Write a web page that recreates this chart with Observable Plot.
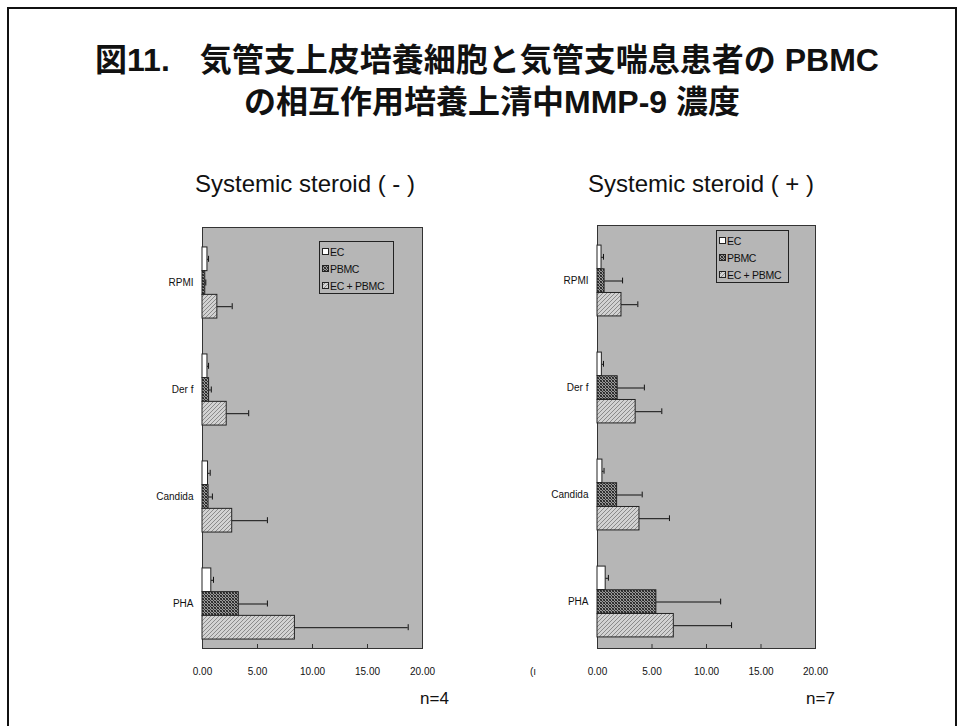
<!DOCTYPE html>
<html>
<head>
<meta charset="utf-8">
<script src="https://cdn.jsdelivr.net/npm/d3@7"></script>
<script src="https://cdn.jsdelivr.net/npm/@observablehq/plot@0.6"></script>
<style>
  body { margin: 0; background: #fff; }
  #page { position: relative; width: 964px; height: 726px; overflow: hidden; background: #fff;
          font-family: "Liberation Sans", Arial, sans-serif; color: #111; }
  .abs { position: absolute; white-space: nowrap; }
  .title { font-family: "Liberation Sans", "Noto Sans CJK JP", sans-serif; font-weight: 700; font-size: 32px;
           line-height: 1; transform: translateX(-50%); }
  .sub { font-size: 24px; line-height: 1; transform: translateX(-50%); }
  .n { font-size: 17px; line-height: 1; }
</style>
</head>
<body>
<div id="page">
  <div class="abs" style="left:7px;top:7px;width:946px;height:800px;border:2px solid #111;"></div>
  <div class="abs title" style="left:487px;top:44px;">図11.<span style="display:inline-block;width:30px"></span>気管支上皮培養細胞と気管支喘息患者の PBMC</div>
  <div class="abs title" style="left:492px;top:86px;">の相互作用培養上清中MMP-9 濃度</div>
  <div class="abs sub" style="left:305px;top:172px;">Systemic steroid ( - )</div>
  <div class="abs sub" style="left:701px;top:172px;">Systemic steroid ( + )</div>
  <div class="abs" id="left" style="left:140px;top:215px;"></div>
  <div class="abs" id="right" style="left:535px;top:213px;"></div>
  <div class="abs" style="left:530px;top:666px;font-size:10px;">(ı</div>
  <div class="abs n" style="left:420px;top:690px;">n=4</div>
  <div class="abs n" style="left:806px;top:690px;">n=7</div>

  <svg width="0" height="0" style="position:absolute">
    <defs>
      <!-- stippled panel background -->
      <pattern id="halftone" width="2" height="2" patternUnits="userSpaceOnUse">
        <rect width="2" height="2" fill="#f2f2f2"/>
        <rect x="0" y="0" width="1" height="1" fill="#7a7a7a"/>
        <rect x="1" y="1" width="1" height="1" fill="#7a7a7a"/>
      </pattern>
      <!-- dark cross-hatch for PBMC -->
      <pattern id="cross" width="3" height="3" patternUnits="userSpaceOnUse">
        <rect width="3" height="3" fill="#9a9a9a"/>
        <rect x="0" y="0" width="1" height="1" fill="#222"/>
        <rect x="1" y="1" width="1" height="1" fill="#333"/>
        <rect x="2" y="2" width="1" height="1" fill="#222"/>
        <rect x="2" y="0" width="1" height="1" fill="#444"/>
        <rect x="0" y="2" width="1" height="1" fill="#444"/>
      </pattern>
      <!-- light diagonal hatch for EC + PBMC -->
      <pattern id="diag" width="4" height="4" patternUnits="userSpaceOnUse">
        <rect width="4" height="4" fill="#d2d2d2"/>
        <path d="M0,4 L4,0 M-1,1 L1,-1 M3,5 L5,3" stroke="#8a8a8a" stroke-width="1"/>
      </pattern>
    </defs>
  </svg>
</div>

<script>
// Categories, series and axis ticks
const categories = ["RPMI", "Der f", "Candida", "PHA"];
const series = ["EC", "PBMC", "EC + PBMC"];
const xTicks = [0, 5, 10, 15, 20];

// Systemic steroid (-), n=4 : means and SD
const minusEC = [0.45, 0.45, 0.5, 0.8];
const minusECsd = [0.1, 0.1, 0.2, 0.2];
const minusPBMC = [0.25, 0.6, 0.55, 3.3];
const minusPBMCsd = [0.05, 0.2, 0.35, 2.6];
const minusMix = [1.35, 2.2, 2.7, 8.4];
const minusMixsd = [1.35, 2.0, 3.2, 10.3];

// Systemic steroid (+), n=7 : means and SD
const plusEC = [0.37, 0.4, 0.45, 0.75];
const plusECsd = [0.18, 0.15, 0.15, 0.25];
const plusPBMC = [0.65, 1.85, 1.8, 5.4];
const plusPBMCsd = [1.65, 2.45, 2.3, 5.9];
const plusMix = [2.2, 3.5, 3.85, 7.0];
const plusMixsd = [1.5, 2.4, 2.75, 5.3];

const fills = ["#ffffff", "url(#cross)", "url(#diag)"];

function rowsFor(groups) {
  const rows = [];
  groups.forEach(([vals, sds], i) => {
    categories.forEach((cat, j) => rows.push({cat, series: series[i], value: vals[j], sd: sds[j]}));
  });
  return rows;
}

function panel(rows, {width, height, marginLeft, marginRight, marginTop, marginBottom, yRange}) {
  const band = (yRange[1] - yRange[0]) / categories.length;
  const barH = 23.7;
  const pad = (band - 3 * barH) / 2;
  const frameH = height - marginTop - marginBottom;
  const marks = [Plot.frame({fill: "url(#halftone)", stroke: "#333", strokeWidth: 1})];
  series.forEach((s, i) => {
    const subset = rows.filter(r => r.series === s);
    const top = pad + i * barH;
    const bottom = band - pad - (i + 1) * barH;
    const mid = top + barH / 2;
    marks.push(
      Plot.ruleY(subset, {y: "cat", x1: "value", x2: d => d.value + d.sd, dy: mid - band / 2, stroke: "#111", strokeWidth: 1}),
      Plot.tickX(subset, {y: "cat", x: d => d.value + d.sd, insetTop: mid - 3, insetBottom: band - mid - 3, stroke: "#111", strokeWidth: 1}),
      Plot.barX(subset, {y: "cat", x: "value", insetTop: top, insetBottom: bottom, fill: fills[i], stroke: "#222", strokeWidth: 1})
    );
  });
  marks.push(
    Plot.tickX(xTicks, {x: d => d, insetTop: frameH - 4, stroke: "#333"}),
    Plot.axisY({tickSize: 0, tickPadding: 9, fontSize: 10, label: null}),
    Plot.axisX({ticks: xTicks, tickSize: 0, tickPadding: 19, fontSize: 10, label: null, tickFormat: d => d.toFixed(2)})
  );
  return Plot.plot({
    width, height, marginLeft, marginRight, marginTop, marginBottom,
    style: {fontFamily: "Liberation Sans, Arial, sans-serif", fontSize: "10px", background: "transparent", color: "#111", overflow: "visible"},
    x: {domain: [0, 20]},
    y: {domain: categories, range: yRange, padding: 0},
    marks
  });
}

function legend(x, y, w, h, rowYs) {
  const ns = "http://www.w3.org/2000/svg";
  const svg = document.createElementNS(ns, "svg");
  svg.setAttribute("width", w + 2);
  svg.setAttribute("height", h + 2);
  svg.style.position = "absolute";
  svg.style.left = x + "px";
  svg.style.top = y + "px";
  svg.style.overflow = "visible";
  const box = document.createElementNS(ns, "rect");
  Object.entries({x: 0.5, y: 0.5, width: w, height: h, fill: "none", stroke: "#222"}).forEach(([k, v]) => box.setAttribute(k, v));
  svg.appendChild(box);
  series.forEach((s, i) => {
    const sw = document.createElementNS(ns, "rect");
    Object.entries({x: 3.5, y: rowYs[i] - 3.5, width: 6, height: 6, fill: fills[i], stroke: "#222"}).forEach(([k, v]) => sw.setAttribute(k, v));
    svg.appendChild(sw);
    const t = document.createElementNS(ns, "text");
    Object.entries({x: 11, y: rowYs[i] + 4, "font-size": 10.5, "font-family": "Liberation Sans, Arial, sans-serif", fill: "#111", "letter-spacing": "-0.3"}).forEach(([k, v]) => t.setAttribute(k, v));
    t.textContent = s;
    svg.appendChild(t);
  });
  document.getElementById("page").appendChild(svg);
}

const leftRows = rowsFor([[minusEC, minusECsd], [minusPBMC, minusPBMCsd], [minusMix, minusMixsd]]);
const rightRows = rowsFor([[plusEC, plusECsd], [plusPBMC, plusPBMCsd], [plusMix, plusMixsd]]);

document.getElementById("left").appendChild(panel(leftRows, {
  width: 300, height: 480, marginLeft: 62, marginRight: 18, marginTop: 12, marginBottom: 47, yRange: [13.5, 441.5]
}));
document.getElementById("right").appendChild(panel(rightRows, {
  width: 300, height: 480, marginLeft: 62, marginRight: 20, marginTop: 12, marginBottom: 45, yRange: [13, 442]
}));

legend(319, 241, 74, 52, [11, 28, 45]);
legend(716, 230, 72, 52, [11, 28, 45]);
</script>
</body>
</html>
